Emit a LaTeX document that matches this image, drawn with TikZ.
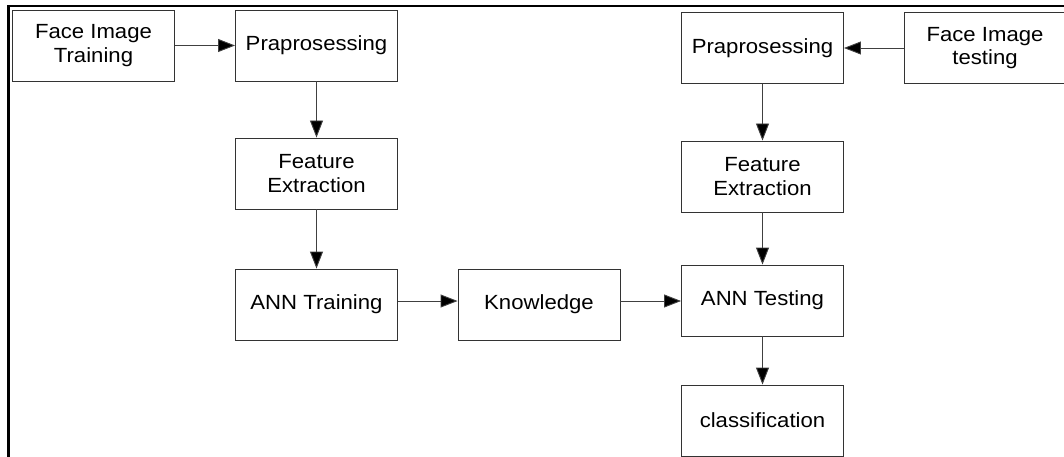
\documentclass[tikz,border=0pt]{standalone}
\usepackage{fontspec}
\setmainfont{Liberation Sans}[FakeStretch=1.08]
\usetikzlibrary{arrows.meta}
\begin{document}
\begin{tikzpicture}[x=1pt,y=-1pt,
  box/.style={draw=black!80, line width=0.9pt, minimum width=162pt, minimum height=71pt,
    inner sep=0pt, align=center, font=\fontsize{20.5}{23.5}\selectfont, text=black},
  arr/.style={draw=black!75, line width=0.9pt, -{Triangle[length=17pt,width=13pt,fill=black]}},
  frame/.style={line width=2.7pt, black}]
\useasboundingbox (0,0) rectangle (1064,457);
\clip (0,0) rectangle (1064,457);
\draw[frame] (8.5,457) -- (8.5,6) -- (1064,6);
\node[box] (b1) at (93.5,45.5) {Face Image\\Training};
\node[box] (b2) at (316.5,45.5) {Praprosessing};
\node[box] (b3) at (316.5,173.5) {Feature\\Extraction};
\node[box] (b4) at (316.5,304.5) {ANN Training};
\node[box] (b5) at (539,304.5) {Knowledge};
\node[box] (b6) at (762.5,300.5) {ANN Testing};
\node[box] (b7) at (762.5,420.5) {classification};
\node[box] (b8) at (762.5,48) {Praprosessing};
\node[box] (b9) at (985,48) {Face Image\\testing};
\node[box] (b10) at (762.5,176.5) {Feature\\Extraction};
\coordinate (k1) at ([yshift=3.5pt]b4.east);
\coordinate (k2) at ([yshift=3.5pt]b5.west);
\coordinate (k3) at ([yshift=3.5pt]b5.east);
\coordinate (k4) at (b6.west |- k3);
\draw[arr] (b1) -- (b2);
\draw[arr] (b2) -- (b3);
\draw[arr] (b3) -- (b4);
\draw[arr] (k1) -- (k2);
\draw[arr] (k3) -- (k4);
\draw[arr] (b9) -- (b8);
\draw[arr] (b8) -- (b10);
\draw[arr] (b10) -- (b6);
\draw[arr] (b6) -- (b7);
\end{tikzpicture}
\end{document}
